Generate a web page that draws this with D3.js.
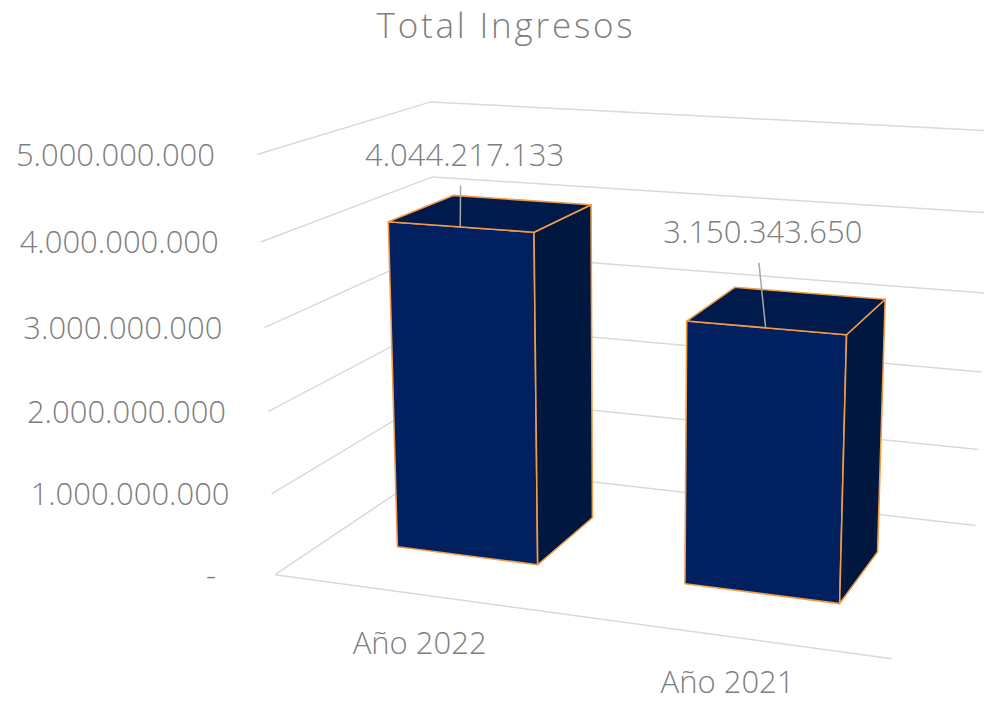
<!DOCTYPE html>
<html><head><meta charset="utf-8">
<script src="https://cdn.jsdelivr.net/npm/d3@7"></script>
<style>
body{margin:0;background:#fff}
text{font-family:"Open Sans",sans-serif;font-weight:300;fill:#7f7f7f}
</style>
</head><body><svg id="chart" width="984" height="703"></svg>
<script>
// ---- data ----
const title = "Total Ingresos";
const categories = ["Año 2022", "Año 2021"];
const values = [4044217133, 3150343650];
const valueTicks = [0, 1000000000, 2000000000, 3000000000, 4000000000, 5000000000];
const valueMax = 5000000000;

// ---- layout / camera (perspective view) ----
const cam = {f: 2133, cx: 629, cy: 335, yaw: 20 * Math.PI / 180, pitch: 14.1 * Math.PI / 180};
const box = {x0: -502.7, y0: -370.6, z0: 871.2, w: 310, h: 209, d: 191};
const depthFront = 0.3, depthBack = 0.7;
const fsLabel = 31, fsTitle = 35;

const svg = d3.select("#chart");

const xScale = d3.scaleBand().domain(categories).range([0, box.w]).paddingInner(0.5).paddingOuter(0.25);
const yScale = d3.scaleLinear().domain([0, valueMax]).range([0, box.h]);
const zScale = d3.scaleLinear().domain([0, 1]).range([0, box.d]);

function project(p) {
  const X = box.x0 + p[0], Y = box.y0 + p[1], Z = box.z0 + p[2];
  const cy = Math.cos(cam.yaw), sy = Math.sin(cam.yaw);
  const cp = Math.cos(cam.pitch), sp = Math.sin(cam.pitch);
  const xc = X * cy + Z * sy;
  const fh = -X * sy + Z * cy;
  const yc = Y * cp + fh * sp;
  const dd = fh * cp - Y * sp;
  return [cam.cx + cam.f * xc / dd, cam.cy - cam.f * yc / dd];
}
const line = d3.line();

const fmtBase = d3.formatLocale({decimal: ",", thousands: ".", grouping: [3], currency: ["", ""]}).format(",d");
const fmt = v => v === 0 ? "-" : fmtBase(v);

// title
svg.append("text").attr("x", 506).attr("y", 38).attr("text-anchor", "middle")
  .style("font-size", fsTitle + "px").style("letter-spacing", "2.8px").text(title);

// gridlines
const grid = svg.append("g").attr("fill", "none").attr("stroke", "#d9d9d9").attr("stroke-width", 1.5);
valueTicks.forEach(t => {
  const y = yScale(t);
  grid.append("path").attr("d", line([project([0, y, 0]), project([0, y, box.d]), project([box.w, y, box.d])]));
});
// category axis (floor front edge)
grid.append("path").attr("d", line([project([0, 0, 0]), project([box.w, 0, 0])]));

// value axis labels
valueTicks.forEach(t => {
  const p = project([0, yScale(t), 0]);
  svg.append("text").attr("x", p[0] - 42 - (t === 0 ? 17 : 0)).attr("y", p[1] + fsLabel * 0.36)
    .attr("text-anchor", "end").style("font-size", fsLabel + "px").text(fmt(t));
});

// category labels
categories.forEach(c => {
  const p = project([xScale(c) + xScale.bandwidth() / 2, 0, 0]);
  svg.append("text").attr("x", p[0] + 2).attr("y", Math.min(p[1] + 49 + fsLabel * 0.36, 693))
    .attr("text-anchor", "middle").style("font-size", fsLabel + "px").text(c);
});

// bars
const z0 = zScale(depthFront), z1 = zScale(depthBack);
const bars = svg.append("g").attr("stroke", "#F29B45").attr("stroke-width", 1.6).attr("stroke-linejoin", "round");
categories.forEach((c, i) => {
  const x0 = xScale(c), x1 = x0 + xScale.bandwidth();
  const h = yScale(values[i]);
  const faces = [
    {pts: [[x0, 0, z0], [x1, 0, z0], [x1, h, z0], [x0, h, z0]], fill: "#00205F"},
    {pts: [[x1, 0, z0], [x1, 0, z1], [x1, h, z1], [x1, h, z0]], fill: "#00173F"},
    {pts: [[x0, h, z0], [x1, h, z0], [x1, h, z1], [x0, h, z1]], fill: "#001A4B"}
  ];
  faces.forEach(f => {
    bars.append("path").attr("d", line(f.pts.map(project)) + "Z").attr("fill", f.fill);
  });
});

// data labels with leader lines
const labelOffsets = [[4.3, -72.3], [-2.7, -95.9]];
categories.forEach((c, i) => {
  const a = project([xScale(c) + xScale.bandwidth() / 2, yScale(values[i]), z0]);
  const lc = [a[0] + labelOffsets[i][0], a[1] + labelOffsets[i][1]];
  svg.append("path").attr("d", line([[lc[0] - 4, lc[1] + 31], a]))
    .attr("stroke", "#a6a6a6").attr("stroke-width", 1.5).attr("fill", "none");
  svg.append("text").attr("x", lc[0]).attr("y", lc[1] + fsLabel * 0.36)
    .attr("text-anchor", "middle").style("font-size", fsLabel + "px").text(fmt(values[i]));
});
</script>
</body></html>
